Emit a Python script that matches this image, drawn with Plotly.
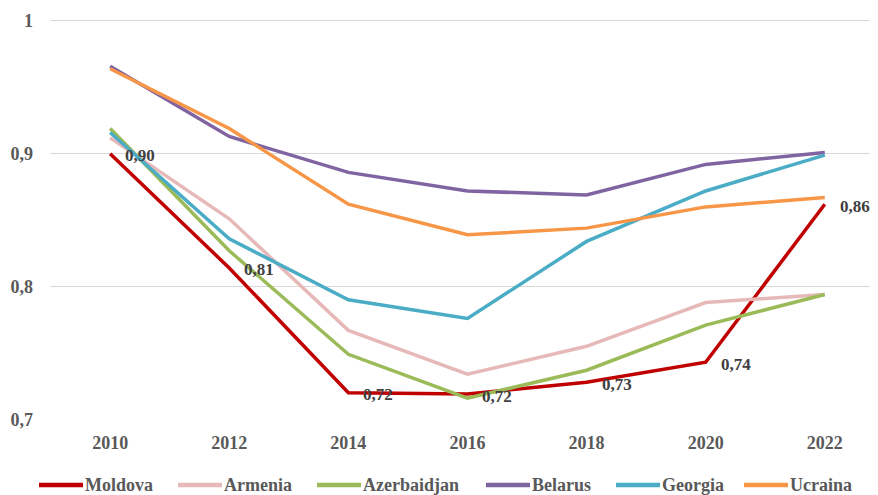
import plotly.graph_objects as go

years = [2010, 2012, 2014, 2016, 2018, 2020, 2022]
moldova = [0.900, 0.814, 0.720, 0.719, 0.728, 0.743, 0.862]
armenia = [0.912, 0.851, 0.767, 0.734, 0.755, 0.788, 0.794]
azerbaidjan = [0.919, 0.827, 0.749, 0.716, 0.737, 0.771, 0.794]
belarus = [0.966, 0.913, 0.886, 0.872, 0.869, 0.892, 0.901]
georgia = [0.916, 0.836, 0.790, 0.776, 0.834, 0.872, 0.899]
ucraina = [0.964, 0.919, 0.862, 0.839, 0.844, 0.860, 0.867]

y_ticks = [0.7, 0.8, 0.9, 1.0]
y_ticktext = ["0,7", "0,8", "0,9", "1"]

series = [
    ("Moldova", moldova, "#C00000"),
    ("Armenia", armenia, "#E6B9B8"),
    ("Azerbaidjan", azerbaidjan, "#9BBB59"),
    ("Belarus", belarus, "#8064A2"),
    ("Georgia", georgia, "#4BACC6"),
    ("Ucraina", ucraina, "#F79646"),
]

FONT = "Liberation Serif, Times New Roman, DejaVu Serif, serif"

# Figure geometry (page body has an 8px margin)
W, H = 870, 487
ML, MR, MT, MB = 42, 2, 11, 75
PW = W - ML - MR
PH = H - MT - MB

fig = go.Figure()
for name, vals, color in series:
    fig.add_trace(go.Scatter(
        x=years, y=vals, name=name, mode="lines",
        line=dict(color=color, width=3.5), showlegend=False,
    ))

# Data labels for Moldova
for x, v in zip(years, moldova):
    fig.add_annotation(
        x=x, y=v, text=f"{v:.2f}".replace(".", ","),
        showarrow=False, xanchor="left", yanchor="middle",
        xshift=14, yshift=-2, borderpad=0,
        font=dict(family=FONT, size=17, color="#404040", weight="bold"),
    )

# Custom legend (layout positions, in px relative to plot-area left edge)
legend_line_px = [-11, 128, 267, 436, 566, 694]
LEG_LEN = 44
leg_y = -(65) / PH
for (name, vals, color), lx in zip(series, legend_line_px):
    x0 = lx / PW
    x1 = (lx + LEG_LEN) / PW
    fig.add_shape(type="line", xref="paper", yref="paper",
                  x0=x0, x1=x1, y0=leg_y, y1=leg_y,
                  line=dict(color=color, width=4.5))
    fig.add_annotation(xref="paper", yref="paper", x=(lx + LEG_LEN) / PW, y=leg_y,
                       text=name, showarrow=False, xanchor="left", yanchor="middle",
                       font=dict(family=FONT, size=18, color="#595959", weight="bold"))

fig.update_layout(
    width=W, height=H,
    margin=dict(l=ML, r=MR, t=MT, b=MB, autoexpand=False),
    plot_bgcolor="white", paper_bgcolor="white",
    font=dict(family=FONT, size=18, color="#595959", weight="bold"),
    showlegend=False,
    xaxis=dict(
        range=[2008.99, 2022.86], tickvals=years, ticktext=[str(y) for y in years],
        showgrid=False, zeroline=False, showline=False, ticks="",
        ticklabelstandoff=10,
        tickfont=dict(family=FONT, size=18, color="#595959", weight="bold"),
    ),
    yaxis=dict(
        range=[0.6995, 1.0015], tickvals=y_ticks, ticktext=y_ticktext,
        showgrid=True, gridcolor="#D9D9D9", gridwidth=1.3, zeroline=False,
        showline=False, ticks="", ticklabelstandoff=16,
        tickfont=dict(family=FONT, size=18, color="#595959", weight="bold"),
    ),
)

fig.write_html("out.html")
